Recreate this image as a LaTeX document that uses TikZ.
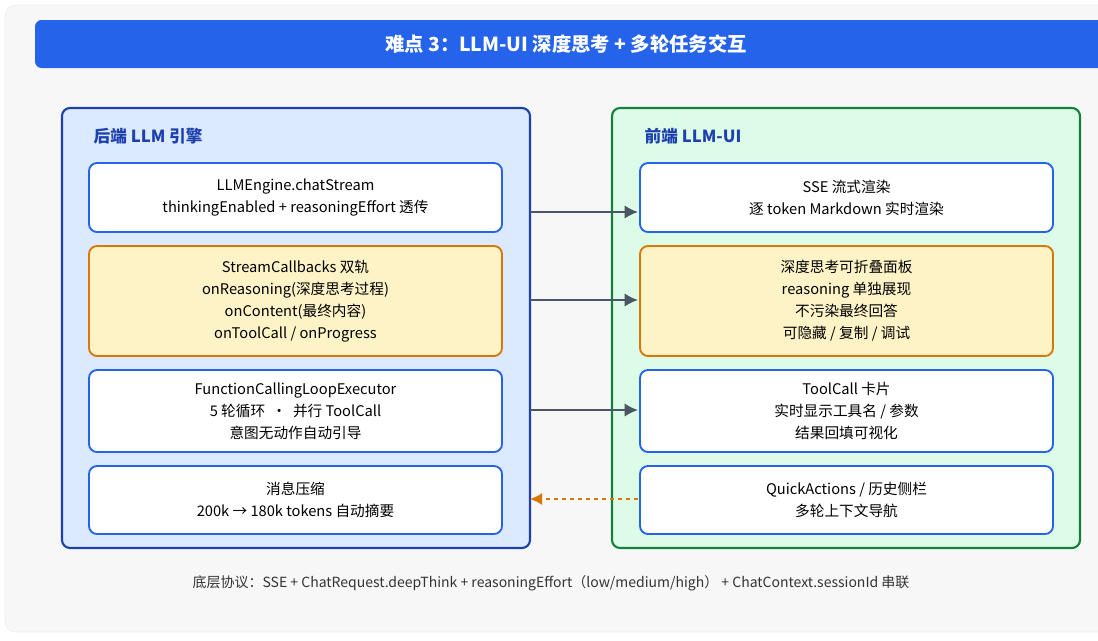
\documentclass[tikz,border=0pt]{standalone}
\usepackage{fontspec}
\setmainfont{Noto Sans CJK SC}
\usetikzlibrary{arrows.meta,positioning,calc}
\definecolor{titleblue}{HTML}{2563EB}
\definecolor{backfill}{HTML}{DBEAFE}
\definecolor{backline}{HTML}{1E40AF}
\definecolor{frontfill}{HTML}{DCFCE7}
\definecolor{frontline}{HTML}{15803D}
\definecolor{warnfill}{HTML}{FEF3C7}
\definecolor{warnline}{HTML}{D97706}
\definecolor{arrowgray}{HTML}{4B5563}
\tikzset{
  panel/.style={draw, line width=1.6pt, rounded corners=6pt},
  card/.style={draw=titleblue, fill=white, line width=1.4pt, rounded corners=6pt,
    minimum width=413*0.75pt, align=center, font=\fontsize{11}{16.5}\selectfont, inner sep=0pt},
  hot/.style={card, draw=warnline, fill=warnfill},
  flow/.style={-{Latex[length=10pt,width=10pt]}, draw=arrowgray, line width=1.4pt},
  back/.style={-{Latex[length=9pt,width=9pt]}, draw=warnline, line width=1.2pt, dashed},
}
\begin{document}
\begin{tikzpicture}[x=0.75pt, y=-0.75pt]
\useasboundingbox (0,0) rectangle (1098,640);
\fill[gray!6, draw=gray!15, rounded corners=8pt] (5,5) rectangle (1110,632);
\fill[titleblue, rounded corners=5pt] (35,20) rectangle (1110,68);
\node[text=white, font=\bfseries\fontsize{14.5}{17}\selectfont] (title) at (566,44) {难点 3：LLM-UI 深度思考 + 多轮任务交互};

% panels
\draw[panel, draw=backline, fill=backfill] (62,108) rectangle (530,548);
\draw[panel, draw=frontline, fill=frontfill] (612,108) rectangle (1080,548);
\node[anchor=west, text=backline, font=\bfseries\fontsize{12.5}{14}\selectfont] (backhead) at (89,136) {后端 LLM 引擎};
\node[anchor=west, text=backline, font=\bfseries\fontsize{12.5}{14}\selectfont] (fronthead) at (640,136) {前端 LLM-UI};

% backend cards
\node[card, minimum height=69*0.75pt] (engine) at (295.5,197.5) {LLMEngine.chatStream\\thinkingEnabled + reasoningEffort 透传};
\node[hot, minimum height=110*0.75pt] (callbacks) at (295.5,301) {StreamCallbacks 双轨\\onReasoning(深度思考过程)\\onContent(最终内容)\\onToolCall / onProgress};
\node[card, minimum height=82*0.75pt] (loop) at (295.5,411) {FunctionCallingLoopExecutor\\5 轮循环 \ · \ 并行 ToolCall\\意图无动作自动引导};
\node[card, minimum height=68*0.75pt] (compress) at (295.5,500) {消息压缩\\200k → 180k tokens 自动摘要};

% frontend cards
\node[card, minimum height=69*0.75pt] (sse) at (846.5,197.5) {SSE 流式渲染\\逐 token Markdown 实时渲染};
\node[hot, minimum height=110*0.75pt] (fold) at (846.5,301) {深度思考可折叠面板\\reasoning 单独展现\\不污染最终回答\\可隐藏 / 复制 / 调试};
\node[card, minimum height=82*0.75pt] (toolcard) at (846.5,411) {ToolCall 卡片\\实时显示工具名 / 参数\\结果回填可视化};
\node[card, minimum height=68*0.75pt] (quick) at (846.5,500) {QuickActions / 历史侧栏\\多轮上下文导航};

% connectors
\coordinate (l1) at (530,212); \coordinate (r1) at (638,212);
\coordinate (l2) at (530,300); \coordinate (r2) at (638,300);
\coordinate (l3) at (530,410); \coordinate (r3) at (638,410);
\coordinate (l4) at (530,499); \coordinate (r4) at (638,499);
\draw[flow] (l1) -- (r1);
\draw[flow] (l2) -- (r2);
\draw[flow] (l3) -- (r3);
\draw[back] (r4) -- (l4);

\node[text=black!80, font=\fontsize{10.5}{12}\selectfont] (footer) at (551,583) {底层协议：SSE + ChatRequest.deepThink + reasoningEffort（low/medium/high） + ChatContext.sessionId 串联};
\end{tikzpicture}
\end{document}
